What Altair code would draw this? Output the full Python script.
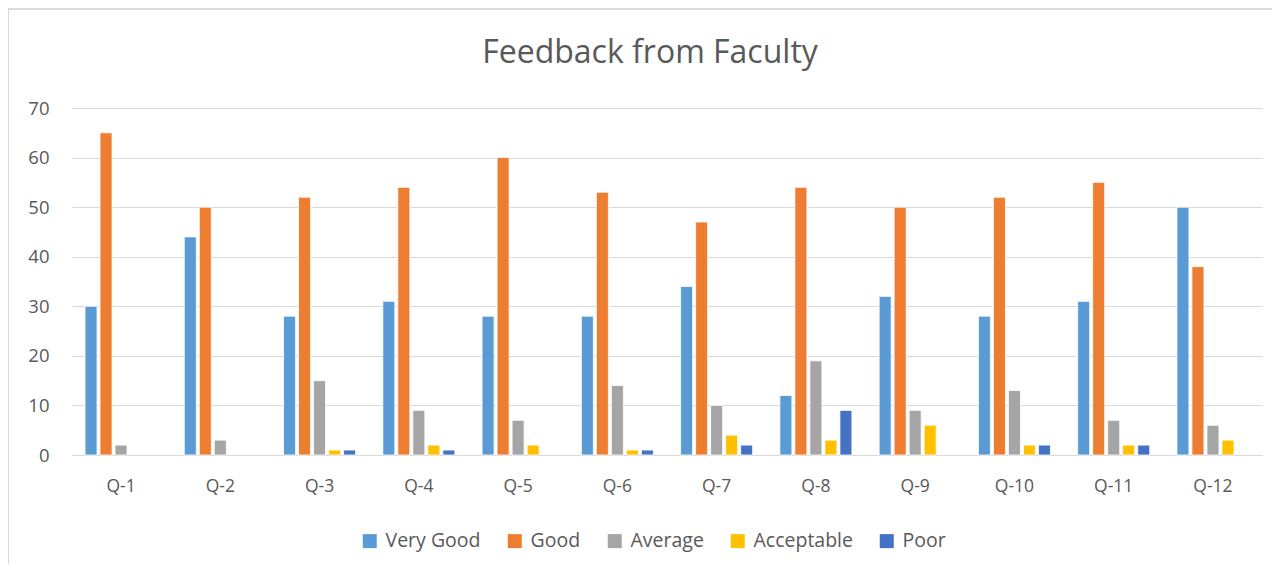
import altair as alt
import pandas as pd

questions = ["Q-1", "Q-2", "Q-3", "Q-4", "Q-5", "Q-6", "Q-7", "Q-8", "Q-9", "Q-10", "Q-11", "Q-12"]
series = ["Very Good", "Good", "Average", "Acceptable", "Poor"]
very_good = [30, 44, 28, 31, 28, 28, 34, 12, 32, 28, 31, 50]
good = [65, 50, 52, 54, 60, 53, 47, 54, 50, 52, 55, 38]
average = [2, 3, 15, 9, 7, 14, 10, 19, 9, 13, 7, 6]
acceptable = [0, 0, 1, 2, 2, 1, 4, 3, 6, 2, 2, 3]
poor = [0, 0, 1, 1, 0, 1, 2, 9, 0, 2, 2, 0]
colors = ["#5B9BD5", "#ED7D31", "#A5A5A5", "#FFC000", "#4472C4"]

rows = []
for name, vals in zip(series, [very_good, good, average, acceptable, poor]):
    for q, v in zip(questions, vals):
        rows.append({"question": q, "series": name, "value": v})
df = pd.DataFrame(rows)

FONT = "Open Sans"
TEXT = "#595959"

bars = alt.Chart(df).transform_filter("datum.value > 0").mark_bar(
    stroke="white", strokeWidth=0.8
).encode(
    x=alt.X("question:N", sort=questions, title=None,
            scale=alt.Scale(paddingInner=0.244, paddingOuter=0.116),
            axis=alt.Axis(labelAngle=0, labelFontSize=17.5, labelColor=TEXT, labelFont=FONT,
                          ticks=False, domainColor="#D9D9D9", domainWidth=1.2,
                          labelPadding=22, grid=False)),
    xOffset=alt.XOffset("series:N", sort=series,
                        scale=alt.Scale(paddingInner=0.2, paddingOuter=0.1)),
    y=alt.Y("value:Q", title=None,
            scale=alt.Scale(domain=[0, 70]),
            axis=alt.Axis(values=[0, 10, 20, 30, 40, 50, 60, 70], labelFontSize=18.5,
                          labelColor=TEXT, labelFont=FONT, ticks=False, domain=False,
                          gridColor="#D9D9D9", gridWidth=1.2, labelPadding=23)),
    color=alt.Color("series:N", sort=series,
                    scale=alt.Scale(domain=series, range=colors),
                    legend=alt.Legend(title=None, orient="none", direction="horizontal",
                                      legendX=288, legendY=423, symbolType="square",
                                      symbolSize=196, symbolStrokeWidth=0,
                                      labelFontSize=19.5, labelColor=TEXT, labelFont=FONT,
                                      columnPadding=24, labelOffset=6)),
)

border = alt.Chart(df).mark_rect(fill=None, stroke="#D9D9D9", strokeWidth=1.2).encode(
    x=alt.value(-64), x2=alt.value(1220), y=alt.value(-99), y2=alt.value(480)
)

chart = alt.layer(border, bars).properties(
    width=1190, height=347,
    title=alt.TitleParams("Feedback from Faculty", fontSize=32, font=FONT, color=TEXT,
                          fontWeight="normal", anchor="middle", frame="group",
                          dx=-17, offset=-62),
    autosize=alt.AutoSizeParams(type="none"),
    padding={"left": 64, "top": 100, "right": 10, "bottom": 109},
).configure_view(stroke=None)

chart.save("out.html", embed_options={"renderer": "svg", "actions": False})
